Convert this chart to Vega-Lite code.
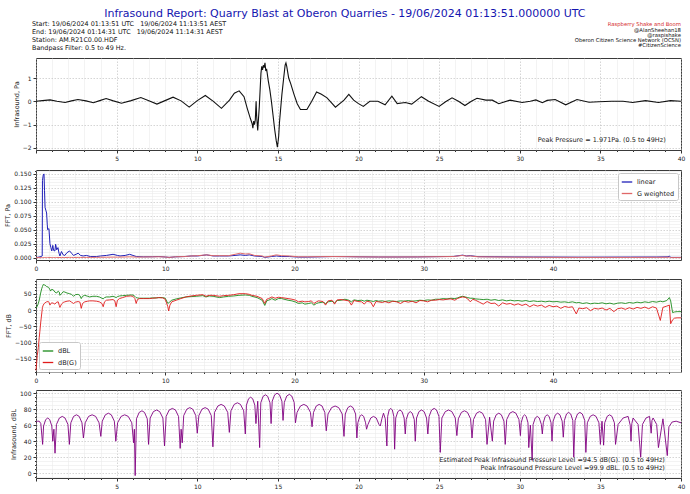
{
"$schema": "https://vega.github.io/schema/vega-lite/v6.json",
"padding": {"left": 4, "right": 6, "top": 8, "bottom": 2},
"background": "white",
"config": {
 "font": "DejaVu Sans",
 "view": {"stroke": "#3a3a3a", "strokeWidth": 1},
 "axis": {"domain": false, "labelFontSize": 6, "labelColor": "#222", "titleFontSize": 6.5, "titleFontWeight": "normal", "titleColor": "#222", "tickColor": "#333", "labelPadding": 2, "titlePadding": 3, "gridWidth": 0.6, "labelOverlap": false, "labelFlush": false, "labelBound": false},
 "legend": {"labelFontSize": 6.5, "labelColor": "#222", "symbolType": "stroke", "symbolStrokeWidth": 1.3, "symbolSize": 110, "strokeColor": "#c8c8c8", "fillColor": "#ffffff", "padding": 3, "rowPadding": 1.5, "cornerRadius": 2, "offset": 3}
},
"title": {"text": "Infrasound Report: Quarry Blast at Oberon Quarries - 19/06/2024 01:13:51.000000 UTC", "fontSize": 11, "fontWeight": "normal", "color": "#1515b0", "anchor": "middle", "offset": 0},
"spacing": 5,
"resolve": {"scale": {"x": "independent", "y": "independent", "color": "independent"}, "legend": {"color": "independent"}, "axis": {"x": "independent", "y": "independent"}},
"datasets": {
 "header": [
  {"block":"info","line":1,"text":"Start: 19/06/2024 01:13:51 UTC \u00a0 19/06/2024 11:13:51 AEST"},
  {"block":"info","line":2,"text":"End: 19/06/2024 01:14:31 UTC \u00a0 19/06/2024 11:14:31 AEST"},
  {"block":"info","line":3,"text":"Station: AM.R21C0.00.HDF"},
  {"block":"info","line":4,"text":"Bandpass Filter: 0.5 to 49 Hz."},
  {"block":"brand","line":1,"text":"Raspberry Shake and Boom"},
  {"block":"credit","line":2,"text":"@AlanSheehan18"},
  {"block":"credit","line":3,"text":"@raspishake"},
  {"block":"credit","line":4,"text":"Oberon Citizen Science Network (OCSN)"},
  {"block":"credit","line":5,"text":"#CitizenScience"}
 ],
 "notes": [
  {"panel":"p1","text":"Peak Pressure = 1.971Pa. (0.5 to 49Hz)"},
  {"panel":"p4a","text":"Estimated Peak Infrasound Pressure Level =94.5 dB(G). (0.5 to 49Hz)"},
  {"panel":"p4b","text":"Peak Infrasound Pressure Level =99.9 dBL. (0.5 to 49Hz)"}
 ],
 "p1": [
  {"t":0,"p":0},{"t":0.4,"p":0.03},{"t":0.87,"p":0.06},{"t":1.3,"p":0.0},{"t":1.8,"p":-0.05},{"t":2.2,"p":0.02},{"t":2.6,"p":0.08},{"t":3.1,"p":0.02},{"t":3.56,"p":-0.06},{"t":3.95,"p":0.03},{"t":4.35,"p":0.12},{"t":4.8,"p":0.02},{"t":5.3,"p":-0.08},{"t":5.9,"p":0.03},{"t":6.5,"p":0.16},{"t":7.0,"p":0.02},{"t":7.5,"p":-0.12},{"t":8.0,"p":0.03},{"t":8.5,"p":0.18},{"t":9.0,"p":0.02},{"t":9.5,"p":-0.25},{"t":10.0,"p":0.03},{"t":10.5,"p":0.25},{"t":11.0,"p":0.0},{"t":11.5,"p":-0.3},{"t":12.0,"p":0.05},{"t":12.3,"p":0.35},{"t":12.6,"p":0.45},{"t":12.9,"p":0.2},{"t":13.1,"p":-0.3},{"t":13.3,"p":-0.75},{"t":13.4,"p":-0.95},{"t":13.45,"p":-1.15},{"t":13.5,"p":-0.85},{"t":13.55,"p":-1.0},{"t":13.6,"p":-0.8},{"t":13.65,"p":0.0},{"t":13.68,"p":-0.6},{"t":13.75,"p":-1.25},{"t":13.85,"p":-0.2},{"t":13.95,"p":1.2},{"t":14.0,"p":1.5},{"t":14.05,"p":1.35},{"t":14.1,"p":1.55},{"t":14.15,"p":1.45},{"t":14.2,"p":1.65},{"t":14.25,"p":1.3},{"t":14.3,"p":1.4},{"t":14.4,"p":0.9},{"t":14.5,"p":0.5},{"t":14.6,"p":0.0},{"t":14.7,"p":-0.6},{"t":14.8,"p":-1.2},{"t":14.9,"p":-1.7},{"t":14.97,"p":-1.97},{"t":15.05,"p":-1.5},{"t":15.1,"p":-0.9},{"t":15.15,"p":-0.5},{"t":15.25,"p":0.3},{"t":15.36,"p":1.0},{"t":15.45,"p":1.55},{"t":15.5,"p":1.65},{"t":15.55,"p":1.5},{"t":15.67,"p":1.0},{"t":15.8,"p":0.75},{"t":16.0,"p":0.3},{"t":16.2,"p":-0.1},{"t":16.4,"p":-0.35},{"t":16.8,"p":-0.35},{"t":17.1,"p":0.0},{"t":17.4,"p":0.4},{"t":17.7,"p":0.3},{"t":18.05,"p":0.15},{"t":18.57,"p":-0.25},{"t":19.1,"p":0.05},{"t":19.4,"p":0.3},{"t":19.7,"p":0.05},{"t":20.0,"p":-0.1},{"t":20.3,"p":-0.22},{"t":20.7,"p":0.0},{"t":21.2,"p":0.0},{"t":21.65,"p":-0.15},{"t":22.07,"p":0.22},{"t":22.4,"p":-0.1},{"t":22.9,"p":-0.05},{"t":23.3,"p":-0.12},{"t":23.9,"p":0.2},{"t":24.35,"p":0.0},{"t":25.0,"p":-0.22},{"t":25.4,"p":-0.02},{"t":25.8,"p":0.15},{"t":26.2,"p":0.0},{"t":26.6,"p":-0.18},{"t":27.0,"p":0.0},{"t":27.35,"p":0.13},{"t":27.9,"p":0.05},{"t":28.3,"p":0.05},{"t":28.7,"p":-0.1},{"t":29.4,"p":0.05},{"t":30.15,"p":-0.05},{"t":30.65,"p":0.0},{"t":31.0,"p":0.06},{"t":31.4,"p":-0.06},{"t":31.7,"p":0.04},{"t":32.2,"p":0.08},{"t":32.85,"p":-0.15},{"t":33.55,"p":0.08},{"t":34.3,"p":-0.04},{"t":34.9,"p":-0.02},{"t":35.7,"p":0.0},{"t":36.4,"p":0.0},{"t":37.0,"p":-0.05},{"t":37.8,"p":0.03},{"t":38.6,"p":-0.05},{"t":39.35,"p":0.03},{"t":40,"p":0.0}
 ],
 "fft": [
  {"f":0,"linear":0,"G weighted":0},{"f":0.4,"linear":0.002,"G weighted":0},{"f":0.48,"linear":0.003,"G weighted":0},{"f":0.5,"linear":0.138,"G weighted":0.0002},{"f":0.56,"linear":0.148,"G weighted":0.0003},{"f":0.62,"linear":0.15,"G weighted":0.0003},{"f":0.66,"linear":0.12,"G weighted":0.0003},{"f":0.7,"linear":0.09,"G weighted":0.0003},{"f":0.76,"linear":0.085,"G weighted":0.0004},{"f":0.82,"linear":0.08,"G weighted":0.0004},{"f":0.87,"linear":0.06,"G weighted":0.0004},{"f":0.9,"linear":0.05,"G weighted":0.0004},{"f":1.0,"linear":0.052,"G weighted":0.0004},{"f":1.08,"linear":0.025,"G weighted":0.0003},{"f":1.15,"linear":0.018,"G weighted":0.0003},{"f":1.22,"linear":0.012,"G weighted":0.0003},{"f":1.3,"linear":0.022,"G weighted":0.0004},{"f":1.36,"linear":0.013,"G weighted":0.0003},{"f":1.46,"linear":0.012,"G weighted":0.0003},{"f":1.52,"linear":0.024,"G weighted":0.0004},{"f":1.6,"linear":0.014,"G weighted":0.0003},{"f":1.7,"linear":0.018,"G weighted":0.0004},{"f":1.78,"linear":0.008,"G weighted":0.0003},{"f":1.85,"linear":0.003,"G weighted":0.0002},{"f":1.97,"linear":0.011,"G weighted":0.0004},{"f":2.1,"linear":0.005,"G weighted":0.0003},{"f":2.23,"linear":0.004,"G weighted":0.0003},{"f":2.4,"linear":0.009,"G weighted":0.0004},{"f":2.6,"linear":0.012,"G weighted":0.0005},{"f":2.75,"linear":0.008,"G weighted":0.0004},{"f":2.9,"linear":0.004,"G weighted":0.0003},{"f":3.1,"linear":0.006,"G weighted":0.0004},{"f":3.26,"linear":0.008,"G weighted":0.0005},{"f":3.45,"linear":0.004,"G weighted":0.0004},{"f":3.65,"linear":0.003,"G weighted":0.0004},{"f":3.9,"linear":0.004,"G weighted":0.0005},{"f":4.2,"linear":0.002,"G weighted":0.0005},{"f":4.67,"linear":0.002,"G weighted":0.0006},{"f":5.0,"linear":0.003,"G weighted":0.0007},{"f":5.45,"linear":0.004,"G weighted":0.0008},{"f":5.96,"linear":0.006,"G weighted":0.001},{"f":6.3,"linear":0.004,"G weighted":0.0009},{"f":6.5,"linear":0.003,"G weighted":0.001},{"f":6.9,"linear":0.004,"G weighted":0.0012},{"f":7.25,"linear":0.006,"G weighted":0.0015},{"f":7.5,"linear":0.004,"G weighted":0.0013},{"f":7.76,"linear":0.002,"G weighted":0.001},{"f":8.3,"linear":0.0015,"G weighted":0.0012},{"f":9.0,"linear":0.0016,"G weighted":0.0014},{"f":9.5,"linear":0.002,"G weighted":0.0016},{"f":10.0,"linear":0.0012,"G weighted":0.0012},{"f":10.3,"linear":0.0005,"G weighted":0.0005},{"f":10.8,"linear":0.0015,"G weighted":0.0015},{"f":11.5,"linear":0.002,"G weighted":0.002},{"f":12.0,"linear":0.003,"G weighted":0.003},{"f":12.5,"linear":0.003,"G weighted":0.0035},{"f":13.2,"linear":0.005,"G weighted":0.005},{"f":13.7,"linear":0.003,"G weighted":0.0035},{"f":14.2,"linear":0.003,"G weighted":0.0035},{"f":14.9,"linear":0.003,"G weighted":0.0035},{"f":15.4,"linear":0.004,"G weighted":0.006},{"f":15.8,"linear":0.005,"G weighted":0.008},{"f":16.2,"linear":0.004,"G weighted":0.0065},{"f":16.5,"linear":0.005,"G weighted":0.007},{"f":16.9,"linear":0.003,"G weighted":0.004},{"f":17.5,"linear":0.002,"G weighted":0.003},{"f":17.7,"linear":0.0005,"G weighted":0.001},{"f":18.2,"linear":0.002,"G weighted":0.003},{"f":18.6,"linear":0.003,"G weighted":0.005},{"f":19.0,"linear":0.002,"G weighted":0.0035},{"f":19.6,"linear":0.002,"G weighted":0.003},{"f":20.3,"linear":0.001,"G weighted":0.0015},{"f":21.0,"linear":0.001,"G weighted":0.0015},{"f":22.0,"linear":0.0015,"G weighted":0.0018},{"f":23.0,"linear":0.002,"G weighted":0.002},{"f":24.0,"linear":0.0018,"G weighted":0.0018},{"f":25.0,"linear":0.0015,"G weighted":0.0014},{"f":26.5,"linear":0.0012,"G weighted":0.0012},{"f":28.0,"linear":0.0012,"G weighted":0.0012},{"f":29.5,"linear":0.0013,"G weighted":0.0013},{"f":31.0,"linear":0.0018,"G weighted":0.0017},{"f":32.3,"linear":0.0022,"G weighted":0.002},{"f":33.0,"linear":0.0045,"G weighted":0.004},{"f":33.3,"linear":0.003,"G weighted":0.0028},{"f":33.6,"linear":0.0035,"G weighted":0.003},{"f":34.2,"linear":0.0018,"G weighted":0.0015},{"f":35.5,"linear":0.0016,"G weighted":0.0012},{"f":37.0,"linear":0.0013,"G weighted":0.0009},{"f":38.5,"linear":0.0012,"G weighted":0.0008},{"f":40.0,"linear":0.0011,"G weighted":0.0006},{"f":42.0,"linear":0.0009,"G weighted":0.0005},{"f":44.0,"linear":0.001,"G weighted":0.0005},{"f":46.0,"linear":0.0011,"G weighted":0.0005},{"f":48.0,"linear":0.0012,"G weighted":0.0006},{"f":48.9,"linear":0.0015,"G weighted":0.0007},{"f":49.0,"linear":0.003,"G weighted":0.0008},{"f":49.1,"linear":0.0005,"G weighted":0.0001},{"f":49.9,"linear":0.0005,"G weighted":0.0001}
 ],
 "fftdb": [
  {"f":0,"dBL":6,"dB(G)":-185},{"f":0.1,"dBL":12,"dB(G)":-140},{"f":0.18,"dBL":20,"dB(G)":-115},{"f":0.25,"dBL":30,"dB(G)":-85},{"f":0.3,"dBL":40,"dB(G)":-65},{"f":0.36,"dBL":52,"dB(G)":-40},{"f":0.44,"dBL":65,"dB(G)":-12},{"f":0.5,"dBL":72,"dB(G)":8},{"f":0.56,"dBL":78,"dB(G)":15},{"f":0.64,"dBL":77,"dB(G)":20},{"f":0.7,"dBL":76,"dB(G)":22},{"f":0.82,"dBL":72,"dB(G)":25},{"f":0.95,"dBL":70,"dB(G)":26},{"f":1.0,"dBL":68,"dB(G)":24},{"f":1.08,"dBL":62,"dB(G)":15},{"f":1.13,"dBL":58,"dB(G)":18},{"f":1.2,"dBL":63,"dB(G)":22},{"f":1.33,"dBL":62,"dB(G)":21},{"f":1.46,"dBL":55,"dB(G)":18},{"f":1.6,"dBL":52,"dB(G)":24},{"f":1.72,"dBL":58,"dB(G)":25},{"f":1.8,"dBL":55,"dB(G)":14},{"f":1.85,"dBL":45,"dB(G)":8},{"f":1.97,"dBL":50,"dB(G)":18},{"f":2.1,"dBL":56,"dB(G)":23},{"f":2.23,"dBL":55,"dB(G)":25},{"f":2.4,"dBL":52,"dB(G)":27},{"f":2.6,"dBL":50,"dB(G)":28},{"f":2.75,"dBL":48,"dB(G)":24},{"f":2.9,"dBL":42,"dB(G)":20},{"f":3.05,"dBL":47,"dB(G)":24},{"f":3.26,"dBL":48,"dB(G)":26},{"f":3.4,"dBL":44,"dB(G)":24},{"f":3.5,"dBL":35,"dB(G)":5},{"f":3.6,"dBL":42,"dB(G)":20},{"f":3.77,"dBL":45,"dB(G)":25},{"f":4.0,"dBL":42,"dB(G)":27},{"f":4.15,"dBL":40,"dB(G)":28},{"f":4.4,"dBL":42,"dB(G)":28},{"f":4.67,"dBL":42,"dB(G)":27},{"f":4.9,"dBL":40,"dB(G)":25},{"f":5.1,"dBL":36,"dB(G)":20},{"f":5.2,"dBL":34,"dB(G)":10},{"f":5.3,"dBL":38,"dB(G)":25},{"f":5.45,"dBL":40,"dB(G)":30},{"f":5.7,"dBL":40,"dB(G)":31},{"f":5.96,"dBL":42,"dB(G)":32},{"f":6.1,"dBL":40,"dB(G)":28},{"f":6.2,"dBL":38,"dB(G)":10},{"f":6.3,"dBL":41,"dB(G)":30},{"f":6.46,"dBL":43,"dB(G)":35},{"f":6.7,"dBL":44,"dB(G)":38},{"f":7.0,"dBL":45,"dB(G)":42},{"f":7.3,"dBL":46,"dB(G)":43},{"f":7.5,"dBL":46,"dB(G)":42},{"f":7.65,"dBL":42,"dB(G)":35},{"f":7.75,"dBL":38,"dB(G)":20},{"f":7.85,"dBL":37,"dB(G)":32},{"f":8.0,"dBL":36,"dB(G)":35},{"f":8.3,"dBL":36,"dB(G)":35},{"f":8.77,"dBL":36,"dB(G)":35},{"f":9.0,"dBL":37,"dB(G)":36},{"f":9.3,"dBL":37,"dB(G)":37},{"f":9.5,"dBL":38,"dB(G)":38},{"f":9.8,"dBL":38,"dB(G)":37},{"f":10.0,"dBL":36,"dB(G)":33},{"f":10.2,"dBL":20,"dB(G)":10},{"f":10.26,"dBL":22,"dB(G)":-3},{"f":10.36,"dBL":25,"dB(G)":15},{"f":10.5,"dBL":30,"dB(G)":25},{"f":10.85,"dBL":34,"dB(G)":30},{"f":11.2,"dBL":37,"dB(G)":35},{"f":11.6,"dBL":40,"dB(G)":40},{"f":12.0,"dBL":41,"dB(G)":43},{"f":12.4,"dBL":42,"dB(G)":45},{"f":12.9,"dBL":44,"dB(G)":47},{"f":13.15,"dBL":40,"dB(G)":42},{"f":13.4,"dBL":43,"dB(G)":45},{"f":13.7,"dBL":42,"dB(G)":45},{"f":14.2,"dBL":38,"dB(G)":42},{"f":14.5,"dBL":40,"dB(G)":44},{"f":14.9,"dBL":42,"dB(G)":45},{"f":15.3,"dBL":43,"dB(G)":47},{"f":15.7,"dBL":45,"dB(G)":50},{"f":16.2,"dBL":46,"dB(G)":50},{"f":16.5,"dBL":45,"dB(G)":48},{"f":16.7,"dBL":42,"dB(G)":45},{"f":17.1,"dBL":38,"dB(G)":42},{"f":17.5,"dBL":30,"dB(G)":35},{"f":17.7,"dBL":14,"dB(G)":20},{"f":17.85,"dBL":28,"dB(G)":33},{"f":18.0,"dBL":30,"dB(G)":35},{"f":18.25,"dBL":35,"dB(G)":40},{"f":18.5,"dBL":30,"dB(G)":36},{"f":18.75,"dBL":35,"dB(G)":39},{"f":19.0,"dBL":35,"dB(G)":38},{"f":19.5,"dBL":30,"dB(G)":35},{"f":19.8,"dBL":28,"dB(G)":33},{"f":20.1,"dBL":24,"dB(G)":30},{"f":20.3,"dBL":20,"dB(G)":25},{"f":20.6,"dBL":22,"dB(G)":27},{"f":20.8,"dBL":18,"dB(G)":25},{"f":21.1,"dBL":20,"dB(G)":26},{"f":21.3,"dBL":22,"dB(G)":28},{"f":21.5,"dBL":15,"dB(G)":20},{"f":21.7,"dBL":20,"dB(G)":25},{"f":21.85,"dBL":22,"dB(G)":28},{"f":22.2,"dBL":24,"dB(G)":26},{"f":22.4,"dBL":20,"dB(G)":15},{"f":22.6,"dBL":25,"dB(G)":28},{"f":22.9,"dBL":27,"dB(G)":30},{"f":23.1,"dBL":22,"dB(G)":18},{"f":23.3,"dBL":29,"dB(G)":31},{"f":23.6,"dBL":30,"dB(G)":32},{"f":23.9,"dBL":33,"dB(G)":30},{"f":24.2,"dBL":30,"dB(G)":28},{"f":24.4,"dBL":25,"dB(G)":15},{"f":24.6,"dBL":31,"dB(G)":29},{"f":24.9,"dBL":29,"dB(G)":26},{"f":25.2,"dBL":30,"dB(G)":25},{"f":25.4,"dBL":27,"dB(G)":18},{"f":25.6,"dBL":30,"dB(G)":27},{"f":25.9,"dBL":28,"dB(G)":24},{"f":26.1,"dBL":26,"dB(G)":10},{"f":26.3,"dBL":29,"dB(G)":26},{"f":26.5,"dBL":27,"dB(G)":25},{"f":26.8,"dBL":28,"dB(G)":23},{"f":27.0,"dBL":26,"dB(G)":26},{"f":27.3,"dBL":28,"dB(G)":22},{"f":27.6,"dBL":27,"dB(G)":27},{"f":27.9,"dBL":26,"dB(G)":25},{"f":28.2,"dBL":28,"dB(G)":20},{"f":28.5,"dBL":27,"dB(G)":27},{"f":28.8,"dBL":29,"dB(G)":24},{"f":29.1,"dBL":27,"dB(G)":27},{"f":29.4,"dBL":28,"dB(G)":22},{"f":29.7,"dBL":30,"dB(G)":29},{"f":30.0,"dBL":29,"dB(G)":28},{"f":30.3,"dBL":31,"dB(G)":25},{"f":30.6,"dBL":30,"dB(G)":30},{"f":30.9,"dBL":33,"dB(G)":30},{"f":31.2,"dBL":33,"dB(G)":32},{"f":31.5,"dBL":35,"dB(G)":31},{"f":31.8,"dBL":34,"dB(G)":33},{"f":32.1,"dBL":36,"dB(G)":34},{"f":32.4,"dBL":35,"dB(G)":30},{"f":32.6,"dBL":37,"dB(G)":35},{"f":32.8,"dBL":40,"dB(G)":38},{"f":33.0,"dBL":42,"dB(G)":40},{"f":33.2,"dBL":40,"dB(G)":39},{"f":33.4,"dBL":38,"dB(G)":34},{"f":33.6,"dBL":36,"dB(G)":25},{"f":33.8,"dBL":36,"dB(G)":33},{"f":34.0,"dBL":34,"dB(G)":30},{"f":34.3,"dBL":33,"dB(G)":24},{"f":34.6,"dBL":32,"dB(G)":18},{"f":34.9,"dBL":33,"dB(G)":26},{"f":35.2,"dBL":30,"dB(G)":20},{"f":35.5,"dBL":32,"dB(G)":21},{"f":35.8,"dBL":29,"dB(G)":12},{"f":36.1,"dBL":31,"dB(G)":22},{"f":36.4,"dBL":28,"dB(G)":18},{"f":36.7,"dBL":30,"dB(G)":20},{"f":37.0,"dBL":28,"dB(G)":15},{"f":37.3,"dBL":29,"dB(G)":19},{"f":37.6,"dBL":27,"dB(G)":14},{"f":37.9,"dBL":29,"dB(G)":18},{"f":38.2,"dBL":26,"dB(G)":10},{"f":38.5,"dBL":28,"dB(G)":16},{"f":38.8,"dBL":26,"dB(G)":12},{"f":39.1,"dBL":27,"dB(G)":15},{"f":39.4,"dBL":25,"dB(G)":8},{"f":39.7,"dBL":27,"dB(G)":14},{"f":40.0,"dBL":25,"dB(G)":10},{"f":40.3,"dBL":26,"dB(G)":12},{"f":40.6,"dBL":24,"dB(G)":5},{"f":40.9,"dBL":25,"dB(G)":11},{"f":41.2,"dBL":23,"dB(G)":8},{"f":41.5,"dBL":25,"dB(G)":10},{"f":41.8,"dBL":22,"dB(G)":-12},{"f":42.0,"dBL":23,"dB(G)":6},{"f":42.3,"dBL":20,"dB(G)":4},{"f":42.6,"dBL":22,"dB(G)":7},{"f":42.9,"dBL":19,"dB(G)":-2},{"f":43.2,"dBL":21,"dB(G)":5},{"f":43.5,"dBL":20,"dB(G)":3},{"f":43.8,"dBL":22,"dB(G)":6},{"f":44.1,"dBL":19,"dB(G)":0},{"f":44.4,"dBL":21,"dB(G)":5},{"f":44.7,"dBL":18,"dB(G)":-5},{"f":45.0,"dBL":21,"dB(G)":4},{"f":45.3,"dBL":22,"dB(G)":6},{"f":45.6,"dBL":20,"dB(G)":2},{"f":45.9,"dBL":23,"dB(G)":7},{"f":46.2,"dBL":21,"dB(G)":3},{"f":46.5,"dBL":24,"dB(G)":8},{"f":46.8,"dBL":22,"dB(G)":5},{"f":47.1,"dBL":25,"dB(G)":9},{"f":47.4,"dBL":23,"dB(G)":4},{"f":47.7,"dBL":26,"dB(G)":10},{"f":48.0,"dBL":24,"dB(G)":6},{"f":48.3,"dBL":27,"dB(G)":-32},{"f":48.5,"dBL":25,"dB(G)":8},{"f":48.8,"dBL":29,"dB(G)":12},{"f":49.0,"dBL":38,"dB(G)":15},{"f":49.1,"dBL":28,"dB(G)":-42},{"f":49.25,"dBL":-8,"dB(G)":-30},{"f":49.4,"dBL":-6,"dB(G)":-25},{"f":49.6,"dBL":-5,"dB(G)":-24},{"f":49.9,"dBL":-5,"dB(G)":-24}
 ],
 "p4": [
  {"t":0,"db":64},{"t":0.1,"db":65},{"t":0.2,"db":65},{"t":0.3,"db":62},{"t":0.41,"db":36},
  {"t":0.47,"db":59},{"t":0.6,"db":67},{"t":0.73,"db":69},{"t":0.85,"db":67},{"t":0.98,"db":59},{"t":1.04,"db":40},
  {"t":1.11,"db":55},{"t":1.18,"db":25},
  {"t":1.27,"db":61},{"t":1.45,"db":69},{"t":1.63,"db":71},{"t":1.8,"db":69},{"t":1.98,"db":61},{"t":2.07,"db":36},
  {"t":2.16,"db":63},{"t":2.33,"db":71},{"t":2.51,"db":73},{"t":2.68,"db":71},{"t":2.85,"db":63},{"t":2.94,"db":44},
  {"t":3.05,"db":63},{"t":3.26,"db":71},{"t":3.48,"db":73},{"t":3.7,"db":71},{"t":3.91,"db":63},{"t":4.02,"db":46},
  {"t":4.11,"db":65},{"t":4.3,"db":73},{"t":4.49,"db":75},{"t":4.67,"db":73},{"t":4.86,"db":65},{"t":4.95,"db":40},
  {"t":5.06,"db":63},{"t":5.28,"db":71},{"t":5.5,"db":73},{"t":5.72,"db":71},{"t":5.94,"db":63},{"t":6.05,"db":38},
  {"t":6.1,"db":55},{"t":6.15,"db":-3},
  {"t":6.23,"db":68},{"t":6.4,"db":76},{"t":6.57,"db":78},{"t":6.73,"db":76},{"t":6.9,"db":68},{"t":6.98,"db":36},
  {"t":7.08,"db":69},{"t":7.28,"db":77},{"t":7.48,"db":79},{"t":7.67,"db":77},{"t":7.87,"db":69},{"t":7.97,"db":34},
  {"t":8.07,"db":71},{"t":8.26,"db":79},{"t":8.46,"db":81},{"t":8.65,"db":79},{"t":8.84,"db":71},{"t":8.94,"db":31},
  {"t":9.0,"db":55},{"t":9.07,"db":38},
  {"t":9.16,"db":72},{"t":9.35,"db":80},{"t":9.54,"db":82},{"t":9.72,"db":80},{"t":9.91,"db":72},{"t":10.0,"db":50},
  {"t":10.1,"db":72},{"t":10.29,"db":80},{"t":10.49,"db":82},{"t":10.68,"db":80},{"t":10.87,"db":72},{"t":10.97,"db":33},
  {"t":11.07,"db":76},{"t":11.28,"db":84},{"t":11.48,"db":86},{"t":11.68,"db":84},{"t":11.89,"db":76},{"t":11.99,"db":51},
  {"t":12.09,"db":78},{"t":12.29,"db":86},{"t":12.49,"db":88},{"t":12.68,"db":86},{"t":12.88,"db":78},{"t":12.98,"db":49},
  {"t":13.05,"db":85},{"t":13.18,"db":93},{"t":13.31,"db":95},{"t":13.44,"db":93},{"t":13.57,"db":85},{"t":13.64,"db":62},
  {"t":13.75,"db":90},{"t":13.87,"db":32},
  {"t":13.94,"db":88},{"t":14.08,"db":96},{"t":14.23,"db":98},{"t":14.37,"db":96},{"t":14.51,"db":88},{"t":14.58,"db":62},
  {"t":14.65,"db":90},{"t":14.8,"db":98},{"t":14.95,"db":100},{"t":15.1,"db":98},{"t":15.25,"db":90},{"t":15.32,"db":66},
  {"t":15.4,"db":88.5},{"t":15.55,"db":96.5},{"t":15.71,"db":98.5},{"t":15.86,"db":96.5},{"t":16.01,"db":88.5},{"t":16.09,"db":63},
  {"t":16.19,"db":76},{"t":16.4,"db":84},{"t":16.61,"db":86},{"t":16.81,"db":84},{"t":17.02,"db":76},{"t":17.12,"db":58},
  {"t":17.21,"db":76},{"t":17.38,"db":84},{"t":17.56,"db":86},{"t":17.74,"db":84},{"t":17.91,"db":76},{"t":18.0,"db":53},
  {"t":18.11,"db":74},{"t":18.33,"db":82},{"t":18.55,"db":84},{"t":18.77,"db":82},{"t":18.99,"db":74},{"t":19.1,"db":46},
  {"t":19.18,"db":74},{"t":19.34,"db":82},{"t":19.5,"db":84},{"t":19.66,"db":82},{"t":19.82,"db":74},{"t":19.9,"db":44},
  {"t":19.96,"db":63},{"t":20.08,"db":71},{"t":20.2,"db":73},{"t":20.32,"db":71},{"t":20.44,"db":63},{"t":20.5,"db":55},
  {"t":20.59,"db":61},{"t":20.76,"db":69},{"t":20.93,"db":71},{"t":21.1,"db":69},{"t":21.27,"db":61},{"t":21.35,"db":59},
  {"t":21.45,"db":68},{"t":21.55,"db":75},{"t":21.66,"db":68},{"t":21.76,"db":34},
  {"t":21.81,"db":71},{"t":21.9,"db":79},{"t":22.0,"db":81},{"t":22.1,"db":79},{"t":22.19,"db":71},{"t":22.24,"db":30},
  {"t":22.31,"db":69},{"t":22.44,"db":77},{"t":22.57,"db":79},{"t":22.7,"db":77},{"t":22.83,"db":69},{"t":22.9,"db":49},
  {"t":22.96,"db":67},{"t":23.09,"db":75},{"t":23.21,"db":77},{"t":23.33,"db":75},{"t":23.46,"db":67},{"t":23.52,"db":40},
  {"t":23.6,"db":69},{"t":23.75,"db":77},{"t":23.91,"db":79},{"t":24.07,"db":77},{"t":24.22,"db":69},{"t":24.3,"db":49},
  {"t":24.38,"db":71},{"t":24.53,"db":79},{"t":24.69,"db":81},{"t":24.84,"db":79},{"t":24.99,"db":71},{"t":25.07,"db":26},
  {"t":25.17,"db":69},{"t":25.38,"db":77},{"t":25.59,"db":79},{"t":25.79,"db":77},{"t":26.0,"db":69},{"t":26.1,"db":47},
  {"t":26.19,"db":68},{"t":26.38,"db":76},{"t":26.57,"db":78},{"t":26.76,"db":76},{"t":26.95,"db":68},{"t":27.04,"db":44},
  {"t":27.13,"db":67},{"t":27.32,"db":75},{"t":27.5,"db":77},{"t":27.69,"db":75},{"t":27.88,"db":67},{"t":27.97,"db":36},
  {"t":28.13,"db":70},{"t":28.3,"db":40},
  {"t":28.38,"db":65},{"t":28.54,"db":73},{"t":28.7,"db":75},{"t":28.86,"db":73},{"t":29.02,"db":65},{"t":29.1,"db":36},
  {"t":29.19,"db":67},{"t":29.38,"db":75},{"t":29.57,"db":77},{"t":29.76,"db":75},{"t":29.95,"db":67},{"t":30.04,"db":47},
  {"t":30.09,"db":63},{"t":30.2,"db":71},{"t":30.3,"db":73},{"t":30.4,"db":71},{"t":30.51,"db":63},{"t":30.56,"db":32},
  {"t":30.66,"db":60},{"t":30.77,"db":16},
  {"t":30.83,"db":61},{"t":30.96,"db":69},{"t":31.09,"db":71},{"t":31.21,"db":69},{"t":31.34,"db":61},{"t":31.4,"db":49},
  {"t":31.46,"db":63},{"t":31.58,"db":71},{"t":31.7,"db":73},{"t":31.82,"db":71},{"t":31.94,"db":63},{"t":32.0,"db":40},
  {"t":32.07,"db":65},{"t":32.21,"db":73},{"t":32.35,"db":75},{"t":32.49,"db":73},{"t":32.63,"db":65},{"t":32.7,"db":45},
  {"t":32.77,"db":66},{"t":32.9,"db":74},{"t":33.03,"db":76},{"t":33.16,"db":74},{"t":33.29,"db":66},{"t":33.35,"db":20},
  {"t":33.43,"db":66},{"t":33.58,"db":74},{"t":33.73,"db":76},{"t":33.88,"db":74},{"t":34.03,"db":66},{"t":34.1,"db":26},
  {"t":34.19,"db":63},{"t":34.37,"db":71},{"t":34.55,"db":73},{"t":34.73,"db":71},{"t":34.91,"db":63},{"t":35.0,"db":36},
  {"t":35.1,"db":65},{"t":35.2,"db":35},
  {"t":35.27,"db":63},{"t":35.42,"db":71},{"t":35.57,"db":73},{"t":35.72,"db":71},{"t":35.87,"db":63},{"t":35.94,"db":36},
  {"t":36.1,"db":61},{"t":36.41,"db":69},{"t":36.72,"db":71},{"t":36.85,"db":60},{"t":36.9,"db":40},{"t":36.95,"db":62},{"t":37.03,"db":69},{"t":37.34,"db":61},{"t":37.5,"db":20},
  {"t":37.61,"db":61},{"t":37.83,"db":69},{"t":38.05,"db":71},{"t":38.15,"db":50},{"t":38.2,"db":66},{"t":38.27,"db":69},{"t":38.49,"db":61},{"t":38.6,"db":32},
  {"t":38.88,"db":68},{"t":39.15,"db":22},
  {"t":39.25,"db":58},{"t":39.45,"db":64},{"t":39.7,"db":65},{"t":40,"db":63}
 ]
},
"vconcat": [
 {
  "width": 645, "height": 32,
  "view": {"stroke": null},
  "data": {"name": "header"},
  "layer": [
   {"transform": [{"filter": "datum.block === 'info'"}],
    "mark": {"type": "text", "align": "left", "baseline": "middle", "fontSize": 6.4, "color": "#111"},
    "encoding": {
     "x": {"datum": -0.0062, "type": "quantitative", "scale": {"domain": [0, 1]}, "axis": null},
     "y": {"field": "line", "type": "quantitative", "scale": {"domain": [0.32, 4.423], "reverse": true}, "axis": null},
     "text": {"field": "text"}}},
   {"transform": [{"filter": "datum.block !== 'info'"}],
    "mark": {"type": "text", "align": "right", "baseline": "middle", "fontSize": 5.3},
    "encoding": {
     "x": {"datum": 1, "type": "quantitative", "axis": null},
     "y": {"field": "line", "type": "quantitative", "scale": {"domain": [-0.01, 6.085], "reverse": true}, "axis": null},
     "text": {"field": "text"},
     "color": {"field": "block", "type": "nominal", "scale": {"domain": ["brand", "credit"], "range": ["#d42a2a", "#111111"]}, "legend": null}}}
  ],
  "resolve": {"scale": {"y": "independent"}}
 },
 {
  "width": 645, "height": 92,
  "resolve": {"axis": {"x": "independent", "y": "independent"}},
  "layer": [
   {"data": {"name": "p1"},
    "mark": {"type": "line", "color": "#111", "strokeWidth": 1.1},
    "encoding": {
     "x": {"field": "t", "type": "quantitative", "scale": {"domain": [0, 40], "nice": false, "zero": false},
      "axis": {"title": null, "format": "d", "labelOverlap": false, "values": [0,0.5,1,1.5,2,2.5,3,3.5,4,4.5,5,5.5,6,6.5,7,7.5,8,8.5,9,9.5,10,10.5,11,11.5,12,12.5,13,13.5,14,14.5,15,15.5,16,16.5,17,17.5,18,18.5,19,19.5,20,20.5,21,21.5,22,22.5,23,23.5,24,24.5,25,25.5,26,26.5,27,27.5,28,28.5,29,29.5,30,30.5,31,31.5,32,32.5,33,33.5,34,34.5,35,35.5,36,36.5,37,37.5,38,38.5,39,39.5,40],
       "labelExpr": "datum.value % 5 === 0 && datum.value > 0 ? datum.label : ''",
       "gridColor": {"condition": {"test": "datum.value % 5 === 0", "value": "#b8b8b8"}, "value": "#ebebeb"},
       "gridDash": {"condition": {"test": "datum.value % 5 === 0", "value": [1.5, 1.5]}, "value": []},
       "tickSize": {"condition": {"test": "datum.value % 5 === 0", "value": 3}, "value": 1.5}}},
     "y": {"field": "p", "type": "quantitative", "scale": {"domain": [-2.09, 1.86], "nice": false, "zero": false},
      "axis": {"title": "Infrasound, Pa", "format": "d", "labelOverlap": false, "values": [-2, -1, 0, 1],
       "gridColor": "#b8b8b8", "gridDash": [1.5, 1.5], "tickSize": 3}}}},
   {"data": {"name": "notes"}, "transform": [{"filter": "datum.panel === 'p1'"}],
    "mark": {"type": "text", "align": "right", "baseline": "middle", "fontSize": 6.5, "color": "#222"},
    "encoding": {"x": {"datum": 39.05, "type": "quantitative", "axis": null}, "y": {"datum": -1.65, "type": "quantitative", "axis": null}, "text": {"field": "text"}}}
  ]
 },
 {
  "width": 645, "height": 90,
  "data": {"name": "fft"},
  "transform": [{"fold": ["linear", "G weighted"], "as": ["series", "v"]}],
  "mark": {"type": "line", "strokeWidth": 1},
  "encoding": {
   "x": {"field": "f", "type": "quantitative", "scale": {"domain": [0, 49.9], "nice": false, "zero": false},
    "axis": {"title": null, "format": "d", "labelOverlap": false, "values": [0,1,2,3,4,5,6,7,8,9,10,11,12,13,14,15,16,17,18,19,20,21,22,23,24,25,26,27,28,29,30,31,32,33,34,35,36,37,38,39,40,41,42,43,44,45,46,47,48,49],
     "labelExpr": "datum.value % 10 === 0 ? datum.label : ''",
     "gridColor": {"condition": {"test": "datum.value % 10 === 0", "value": "#b8b8b8"}, "value": "#ebebeb"},
     "gridDash": {"condition": {"test": "datum.value % 10 === 0", "value": [1.5, 1.5]}, "value": []},
     "tickSize": {"condition": {"test": "datum.value % 10 === 0", "value": 3}, "value": 1.5}}},
   "y": {"field": "v", "type": "quantitative", "scale": {"domain": [-0.0042, 0.157], "nice": false, "zero": false},
    "axis": {"title": "FFT, Pa", "format": ".3f", "labelOverlap": false, "values": [0,0.005,0.01,0.015,0.02,0.025,0.03,0.035,0.04,0.045,0.05,0.055,0.06,0.065,0.07,0.075,0.08,0.085,0.09,0.095,0.1,0.105,0.11,0.115,0.12,0.125,0.13,0.135,0.14,0.145,0.15,0.155],
     "labelExpr": "abs(datum.value*40 - round(datum.value*40)) < 0.0001 ? datum.label : ''",
     "gridColor": {"condition": {"test": "abs(datum.value*40 - round(datum.value*40)) < 0.0001", "value": "#b8b8b8"}, "value": "#ebebeb"},
     "gridDash": {"condition": {"test": "abs(datum.value*40 - round(datum.value*40)) < 0.0001", "value": [1.5, 1.5]}, "value": []},
     "tickSize": {"condition": {"test": "abs(datum.value*40 - round(datum.value*40)) < 0.0001", "value": 3}, "value": 1.5}}},
   "color": {"field": "series", "type": "nominal", "scale": {"domain": ["linear", "G weighted"], "range": ["#2020b8", "#e06868"]},
    "legend": {"title": null, "orient": "top-right"}}
  }
 },
 {
  "width": 645, "height": 93,
  "data": {"name": "fftdb"},
  "transform": [{"fold": ["dBL", "dB(G)"], "as": ["series", "v"]}],
  "mark": {"type": "line", "strokeWidth": 0.9},
  "encoding": {
   "x": {"field": "f", "type": "quantitative", "scale": {"domain": [0, 49.9], "nice": false, "zero": false},
    "axis": {"title": null, "format": "d", "labelOverlap": false, "values": [0,1,2,3,4,5,6,7,8,9,10,11,12,13,14,15,16,17,18,19,20,21,22,23,24,25,26,27,28,29,30,31,32,33,34,35,36,37,38,39,40,41,42,43,44,45,46,47,48,49],
     "labelExpr": "datum.value % 10 === 0 ? datum.label : ''",
     "gridColor": {"condition": {"test": "datum.value % 10 === 0", "value": "#b8b8b8"}, "value": "#ebebeb"},
     "gridDash": {"condition": {"test": "datum.value % 10 === 0", "value": [1.5, 1.5]}, "value": []},
     "tickSize": {"condition": {"test": "datum.value % 10 === 0", "value": 3}, "value": 1.5}}},
   "y": {"field": "v", "type": "quantitative", "scale": {"domain": [-190, 95], "nice": false, "zero": false},
    "axis": {"title": "FFT, dB", "format": "d", "labelOverlap": false, "values": [-190,-180,-170,-160,-150,-140,-130,-120,-110,-100,-90,-80,-70,-60,-50,-40,-30,-20,-10,0,10,20,30,40,50,60,70,80,90],
     "labelExpr": "datum.value % 50 === 0 ? datum.label : ''",
     "gridColor": {"condition": {"test": "datum.value % 50 === 0", "value": "#b8b8b8"}, "value": "#ebebeb"},
     "gridDash": {"condition": {"test": "datum.value % 50 === 0", "value": [1.5, 1.5]}, "value": []},
     "tickSize": {"condition": {"test": "datum.value % 50 === 0", "value": 3}, "value": 1.5}}},
   "color": {"field": "series", "type": "nominal", "scale": {"domain": ["dBL", "dB(G)"], "range": ["#1a8a1a", "#e01b1b"]},
    "legend": {"title": null, "orient": "bottom-left"}}
  }
 },
 {
  "width": 645, "height": 88,
  "resolve": {"axis": {"x": "independent", "y": "independent"}},
  "layer": [
   {"data": {"name": "p4"},
    "mark": {"type": "line", "color": "#800080", "strokeWidth": 0.9},
    "encoding": {
     "x": {"field": "t", "type": "quantitative", "scale": {"domain": [0, 40], "nice": false, "zero": false},
      "axis": {"title": null, "format": "d", "labelOverlap": false, "values": [0,0.5,1,1.5,2,2.5,3,3.5,4,4.5,5,5.5,6,6.5,7,7.5,8,8.5,9,9.5,10,10.5,11,11.5,12,12.5,13,13.5,14,14.5,15,15.5,16,16.5,17,17.5,18,18.5,19,19.5,20,20.5,21,21.5,22,22.5,23,23.5,24,24.5,25,25.5,26,26.5,27,27.5,28,28.5,29,29.5,30,30.5,31,31.5,32,32.5,33,33.5,34,34.5,35,35.5,36,36.5,37,37.5,38,38.5,39,39.5,40],
       "labelExpr": "datum.value % 5 === 0 && datum.value > 0 ? datum.label : ''",
       "gridColor": {"condition": {"test": "datum.value % 5 === 0", "value": "#b8b8b8"}, "value": "#ebebeb"},
       "gridDash": {"condition": {"test": "datum.value % 5 === 0", "value": [1.5, 1.5]}, "value": []},
       "tickSize": {"condition": {"test": "datum.value % 5 === 0", "value": 3}, "value": 1.5}}},
     "y": {"field": "db", "type": "quantitative", "scale": {"domain": [-6, 104], "nice": false, "zero": false},
      "axis": {"title": "Infrasound, dBL", "format": "d", "labelOverlap": false, "values": [-5,0,5,10,15,20,25,30,35,40,45,50,55,60,65,70,75,80,85,90,95,100],
       "labelExpr": "datum.value % 20 === 0 ? datum.label : ''",
       "gridColor": {"condition": {"test": "datum.value % 20 === 0", "value": "#b8b8b8"}, "value": "#ebebeb"},
       "gridDash": {"condition": {"test": "datum.value % 20 === 0", "value": [1.5, 1.5]}, "value": []},
       "tickSize": {"condition": {"test": "datum.value % 20 === 0", "value": 3}, "value": 1.5}}}}},
   {"data": {"name": "notes"}, "transform": [{"filter": "datum.panel === 'p4a'"}],
    "mark": {"type": "text", "align": "right", "baseline": "middle", "fontSize": 6.5, "color": "#222"},
    "encoding": {"x": {"datum": 39.0, "type": "quantitative", "axis": null}, "y": {"datum": 16, "type": "quantitative", "axis": null}, "text": {"field": "text"}}},
   {"data": {"name": "notes"}, "transform": [{"filter": "datum.panel === 'p4b'"}],
    "mark": {"type": "text", "align": "right", "baseline": "middle", "fontSize": 6.5, "color": "#222"},
    "encoding": {"x": {"datum": 39.0, "type": "quantitative", "axis": null}, "y": {"datum": 6.5, "type": "quantitative", "axis": null}, "text": {"field": "text"}}}
  ]
 }
]
}
